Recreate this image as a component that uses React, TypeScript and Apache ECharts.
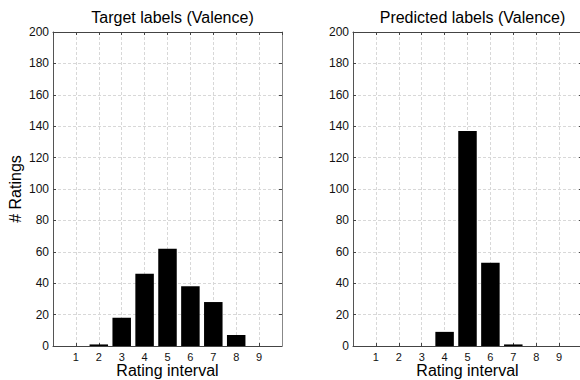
import React, { useEffect, useRef } from 'react';
import * as echarts from 'echarts';

const categories = [1, 2, 3, 4, 5, 6, 7, 8, 9];
const targetCounts = [0, 1, 18, 46, 62, 38, 28, 7, 0];
const predictedCounts = [0, 0, 0, 9, 137, 53, 1, 0, 0];
const titles = ['Target labels (Valence)', 'Predicted labels (Valence)'];
const xAxisName = 'Rating interval';
const yAxisName = '# Ratings';
const xMin = 0;
const xMax = 10;
const yMin = 0;
const yMax = 200;
const yStep = 20;

const FONT = "'Liberation Sans', Arial, Helvetica, sans-serif";

export default function App() {
  const ref = useRef<HTMLDivElement>(null);

  useEffect(() => {
    if (!ref.current) return;
    const chart = echarts.init(ref.current, null, { renderer: 'svg' });

    const grids = [
      { left: 53, top: 32, width: 229, height: 314, outerBoundsMode: 'none', containLabel: false },
      { left: 353, top: 32, width: 229, height: 314, outerBoundsMode: 'none', containLabel: false },
    ];

    const xAxes: any[] = [];
    const yAxes: any[] = [];
    const series: any[] = [];
    const datasets = [targetCounts, predictedCounts];

    grids.forEach((g, i) => {
      xAxes.push({
        type: 'value',
        gridIndex: i,
        position: 'bottom',
        min: xMin,
        max: xMax,
        interval: 1,
        name: xAxisName,
        nameLocation: 'middle',
        nameGap: 16,
        nameMoveOverlap: false,
        nameTextStyle: { fontFamily: FONT, fontSize: 16, color: '#000', verticalAlign: 'top', lineHeight: 16 },
        axisLine: { show: true, onZero: false, lineStyle: { color: '#444', width: 1 } },
        axisTick: { show: true, inside: true, length: 3, lineStyle: { color: '#444' } },
        axisLabel: {
          fontFamily: FONT,
          fontSize: 11,
          color: '#111',
          margin: 5,
          showMinLabel: false,
          showMaxLabel: false,
          formatter: (v: number) => (categories.includes(v) ? String(v) : ''),
        },
        splitLine: { show: true, lineStyle: { color: '#d8d8d8', type: [3, 2], width: 1 } },
      });
      xAxes.push({
        type: 'value',
        gridIndex: i,
        position: 'top',
        min: xMin,
        max: xMax,
        interval: 1,
        axisLine: { show: true, onZero: false, lineStyle: { color: '#444', width: 1 } },
        axisTick: { show: true, inside: true, length: 3, lineStyle: { color: '#444' } },
        axisLabel: { show: false },
        splitLine: { show: false },
      });
      yAxes.push({
        type: 'value',
        gridIndex: i,
        position: 'left',
        min: yMin,
        max: yMax,
        interval: yStep,
        name: i === 0 ? yAxisName : '',
        nameLocation: 'middle',
        nameGap: 30,
        nameMoveOverlap: false,
        nameTextStyle: { fontFamily: FONT, fontSize: 16, color: '#000' },
        axisLine: { show: true, onZero: false, lineStyle: { color: '#555', width: 1 } },
        axisTick: { show: true, inside: true, length: 3, lineStyle: { color: '#444' } },
        axisLabel: { fontFamily: FONT, fontSize: 12, color: '#111', margin: 4 },
        splitLine: { show: true, lineStyle: { color: '#d8d8d8', type: [3, 2], width: 1 } },
      });
      yAxes.push({
        type: 'value',
        gridIndex: i,
        position: 'right',
        min: yMin,
        max: yMax,
        interval: yStep,
        axisLine: { show: true, onZero: false, lineStyle: { color: '#888', width: 1 } },
        axisTick: { show: true, inside: true, length: 3, lineStyle: { color: '#444' } },
        axisLabel: { show: false },
        splitLine: { show: false },
      });

      series.push({
        type: 'bar',
        xAxisIndex: i * 2,
        yAxisIndex: i * 2,
        barWidth: 18.5,
        data: categories.map((c, k) => [c, datasets[i][k]]),
        itemStyle: { color: '#000' },
        silent: true,
      });
    });

    chart.setOption({
      animation: false,
      backgroundColor: '#fff',
      title: titles.map((t, i) => ({
        text: t,
        left: grids[i].left + grids[i].width / 2,
        top: 4,
        textAlign: 'center',
        textStyle: { fontFamily: FONT, fontSize: 16, fontWeight: 'normal', color: '#000' },
      })),
      grid: grids,
      xAxis: xAxes,
      yAxis: yAxes,
      series,
    });

    return () => chart.dispose();
  }, []);

  return (
    <div
      ref={ref}
      style={{ position: 'absolute', left: 0, top: 0, width: 580, height: 380 }}
    />
  );
}
